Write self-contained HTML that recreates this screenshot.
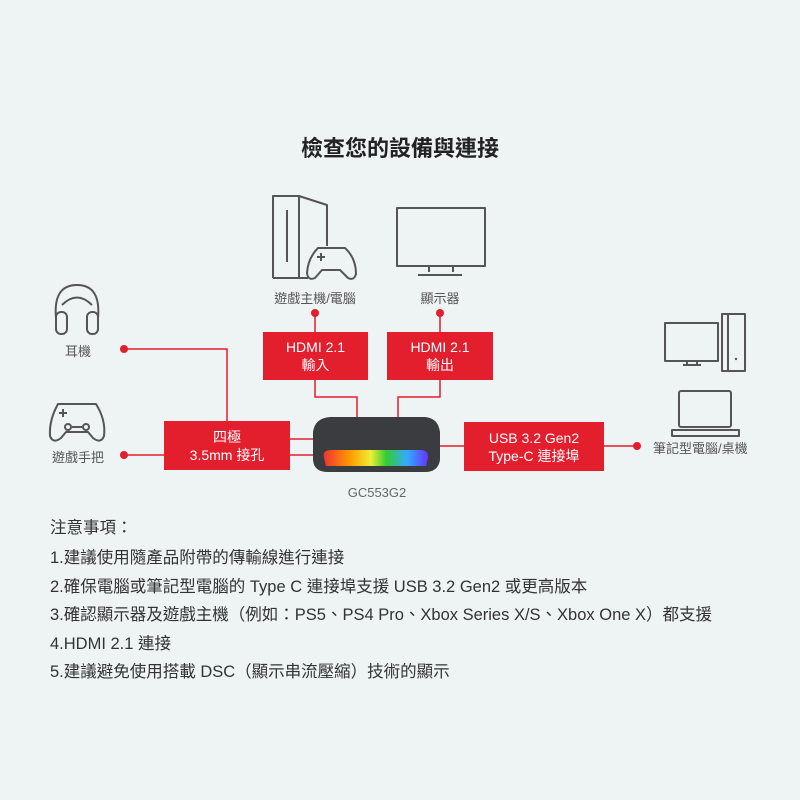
<!DOCTYPE html>
<html><head><meta charset="utf-8"><style>
body{margin:0;width:800px;height:800px;background:#eef3f3;position:relative;overflow:hidden;font-family:"Liberation Sans","Noto Sans CJK TC",sans-serif;color:#333}
.t{position:absolute;white-space:nowrap}
.box{position:absolute;background:#e31e2d;color:#fff;font-size:14px;line-height:18px;text-align:center;display:flex;align-items:center;justify-content:center}
.lab{position:absolute;font-size:13px;color:#555;white-space:nowrap;transform:translateX(-50%)}
.n{position:absolute;left:50px;font-size:16.5px;color:#333;white-space:nowrap}
</style></head><body>
<div class="t" style="left:0;width:800px;text-align:center;top:131px;font-size:22px;font-weight:bold;color:#222">檢查您的設備與連接</div>

<svg width="800" height="800" style="position:absolute;left:0;top:0" fill="none">
<g stroke="#e31e2d" stroke-width="1.5">
<path d="M124 349H227V421"/><path d="M124 455H164"/>
<path d="M290 439H316M290 455H313"/>
<path d="M315 313V332M315 380V397H357V417"/>
<path d="M440 313V332M440 380V397H398V417"/>
<path d="M604 446H637M440 446H464"/>
</g>
<g fill="#e31e2d"><circle cx="124" cy="349" r="4"/><circle cx="124" cy="455" r="4"/><circle cx="315" cy="313" r="4"/><circle cx="440" cy="313" r="4"/><circle cx="637" cy="446" r="4"/></g>
<g stroke="#555" stroke-width="2" stroke-linejoin="round">
<path d="M273 278V196H299L327 205V246M299 196V278H273M299 278H308"/>
<path d="M287 210V262"/>
<path d="M318 248H345Q356 258 356 274Q354 281 348 278L340 270H322L315 278Q308 281 307 273Q308 258 318 248Z"/>
<path d="M317 257h8M321 253v8"/>
<rect x="397" y="208" width="88" height="58"/><path d="M429 266v6M453 266v6M418 275H462"/>
<path d="M56 318Q53 285 77 285Q101 285 98 318"/><path d="M62 305Q77 290 92 305"/>
<rect x="56" y="312" width="11" height="22" rx="5"/><rect x="87" y="312" width="11" height="22" rx="5"/>
<path d="M58 404H96Q106 420 104 436Q101 444 93 438L88 432H66L61 438Q53 444 50 436Q49 420 58 404Z"/>
<path d="M59 413h8M63 409v8"/><circle cx="68" cy="427" r="3"/><circle cx="86" cy="427" r="3"/><path d="M72 427h10"/>
<rect x="665" y="323" width="53" height="38"/><path d="M722 314H745V371H722ZM728 314V371M683 365h18M687 361v4M697 361v4"/>
<rect x="679" y="391" width="52" height="36" rx="2"/><path d="M672 430H739V436H672Z"/>
</g>
<circle cx="736" cy="359" r="1.2" fill="#555"/>
<defs><linearGradient id="rg" x1="0" x2="1"><stop offset="0" stop-color="#e33"/><stop offset=".25" stop-color="#f90"/><stop offset=".45" stop-color="#ee3"/><stop offset=".6" stop-color="#3c3"/><stop offset=".8" stop-color="#3af"/><stop offset="1" stop-color="#63f"/></linearGradient></defs>
<path d="M330 417H425Q438 418 440 432V460Q438 472 425 472H328Q314 472 313 460V432Q315 418 330 417Z" fill="#3a3c3f"/>
<path d="M324 458Q322 450 331 450H420Q429 450 428 458L426 466H326Z" fill="url(#rg)"/>
</svg>

<div class="lab" style="left:315px;top:288px">遊戲主機/電腦</div>
<div class="lab" style="left:440px;top:288px">顯示器</div>
<div class="lab" style="left:78px;top:341px">耳機</div>
<div class="lab" style="left:78px;top:447px">遊戲手把</div>
<div class="t" style="left:653px;top:438px;font-size:13px;color:#555">筆記型電腦/桌機</div>
<div class="lab" style="left:377px;top:485px;font-size:13px;color:#666">GC553G2</div>

<div class="box" style="left:263px;top:332px;width:105px;height:48px">HDMI 2.1<br>輸入</div>
<div class="box" style="left:387px;top:332px;width:106px;height:48px">HDMI 2.1<br>輸出</div>
<div class="box" style="left:164px;top:421px;width:126px;height:49px">四極<br>3.5mm 接孔</div>
<div class="box" style="left:464px;top:422px;width:140px;height:49px">USB 3.2 Gen2<br>Type-C 連接埠</div>

<div class="n" style="top:514px">注意事項：</div>
<div class="n" style="top:544px">1.建議使用隨產品附帶的傳輸線進行連接</div>
<div class="n" style="top:573px">2.確保電腦或筆記型電腦的 Type C 連接埠支援 USB 3.2 Gen2 或更高版本</div>
<div class="n" style="top:601px">3.確認顯示器及遊戲主機（例如：PS5、PS4 Pro、Xbox Series X/S、Xbox One X）都支援</div>
<div class="n" style="top:630px">4.HDMI 2.1 連接</div>
<div class="n" style="top:658px">5.建議避免使用搭載 DSC（顯示串流壓縮）技術的顯示</div>
</body></html>
